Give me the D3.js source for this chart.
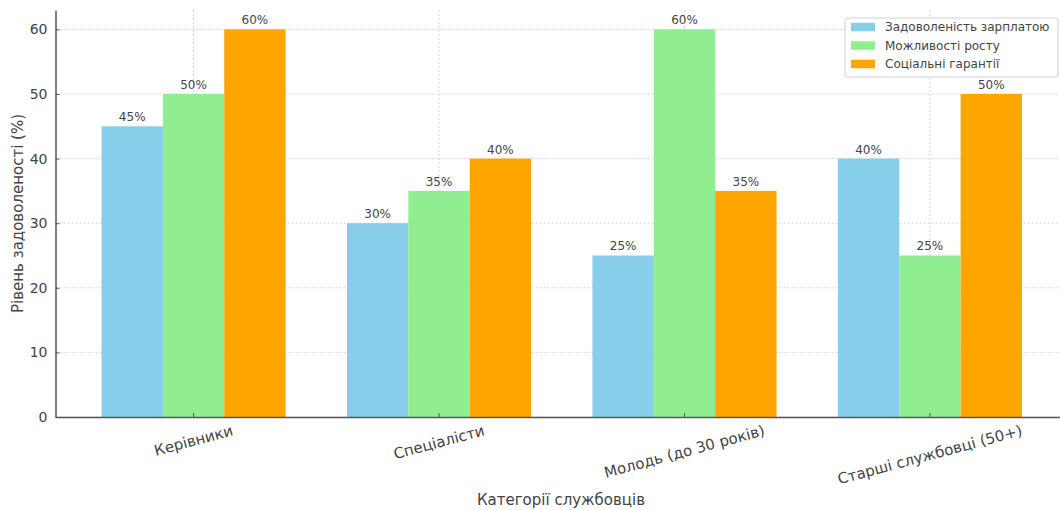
<!DOCTYPE html>
<html lang="uk">
<head>
<meta charset="utf-8">
<script src="https://cdn.jsdelivr.net/npm/d3@7"></script>
<style>
  html, body { margin: 0; padding: 0; background: #fff; }
  svg { display: block; font-family: "DejaVu Sans", sans-serif; }
</style>
</head>
<body>
<svg id="chart" width="1060" height="510"></svg>
<script>
// Employee categories and satisfaction scores (%)
const categories = ["Керівники", "Спеціалісти", "Молодь (до 30 років)", "Старші службовці (50+)"];
const seriesNames = ["Задоволеність зарплатою", "Можливості росту", "Соціальні гарантії"];
const salary = [45, 30, 25, 40];
const growth = [50, 35, 60, 25];
const social = [60, 40, 35, 50];
const yTicks = [0, 10, 20, 30, 40, 50, 60];
const colors = ["#87CEEB", "#90EE90", "#FFA500"];

const seriesValues = [salary, growth, social];
const rows = categories.map((c, i) => ({
  category: c,
  values: seriesNames.map((s, k) => ({ series: s, value: seriesValues[k][i], color: colors[k] }))
}));

const svg = d3.select("#chart");
const textColor = "#444";
const axisColor = "#555";

const plot = { left: 55.5, right: 1068, top: 10, bottom: 417 };

const x = d3.scaleBand()
  .domain(categories)
  .range([plot.left, plot.right])
  .paddingInner(0.25)
  .paddingOuter(0.1875);

const xSub = d3.scaleBand()
  .domain(seriesNames)
  .range([0, x.bandwidth()])
  .padding(0);

const y = d3.scaleLinear()
  .domain([0, 63])
  .range([plot.bottom, plot.top]);

// grid lines
const grid = svg.append("g").attr("class", "grid");
grid.selectAll("line.h")
  .data(yTicks)
  .join("line")
  .attr("class", "h")
  .attr("x1", plot.left).attr("x2", plot.right)
  .attr("y1", d => y(d)).attr("y2", d => y(d))
  .attr("stroke", "#d2d2d2")
  .attr("stroke-width", 1)
  .attr("stroke-dasharray", "2,2");
grid.selectAll("line.v")
  .data(categories)
  .join("line")
  .attr("class", "v")
  .attr("x1", d => x(d) + x.bandwidth() / 2).attr("x2", d => x(d) + x.bandwidth() / 2)
  .attr("y1", plot.top).attr("y2", plot.bottom)
  .attr("stroke", "#d2d2d2")
  .attr("stroke-width", 1)
  .attr("stroke-dasharray", "2,2");

// bars
const groups = svg.append("g").selectAll("g")
  .data(rows)
  .join("g")
  .attr("transform", d => `translate(${x(d.category)},0)`);

groups.selectAll("rect")
  .data(d => d.values)
  .join("rect")
  .attr("x", d => xSub(d.series))
  .attr("width", xSub.bandwidth())
  .attr("y", d => y(d.value))
  .attr("height", d => y(0) - y(d.value))
  .attr("fill", d => d.color);

// value labels
groups.selectAll("text")
  .data(d => d.values)
  .join("text")
  .attr("x", d => xSub(d.series) + xSub.bandwidth() / 2)
  .attr("y", d => y(d.value) - 5)
  .attr("text-anchor", "middle")
  .attr("font-size", 12)
  .attr("fill", textColor)
  .text(d => d.value + "%");

// y axis
const yAxis = svg.append("g")
  .attr("transform", `translate(${plot.left},0)`)
  .call(d3.axisLeft(y).tickValues(yTicks).tickSizeInner(-4).tickSizeOuter(0).tickPadding(8));
yAxis.select(".domain").attr("stroke", axisColor).attr("stroke-width", 1.5);
yAxis.selectAll(".tick line").attr("stroke", axisColor).attr("stroke-width", 1);
yAxis.selectAll(".tick text").attr("font-size", 14).attr("fill", textColor)
  .attr("font-family", "DejaVu Sans, sans-serif");

// x axis: labels rotated 15° about their centre, the rotated box hanging below the axis
const xAxis = svg.append("g")
  .attr("transform", `translate(0,${plot.bottom})`)
  .call(d3.axisBottom(x).tickSizeInner(-4).tickSizeOuter(0).tickPadding(0));
xAxis.select(".domain").attr("stroke", axisColor).attr("stroke-width", 1.5);
xAxis.selectAll(".tick line").attr("stroke", axisColor).attr("stroke-width", 1);
const angle = 15 * Math.PI / 180;
xAxis.selectAll(".tick text")
  .attr("font-size", 15)
  .attr("fill", textColor)
  .attr("font-family", "DejaVu Sans, sans-serif")
  .attr("text-anchor", "middle")
  .attr("dominant-baseline", "central")
  .attr("dy", null)
  .attr("y", 0)
  .each(function () {
    const w = this.getComputedTextLength();
    const h = 17;
    const cy = 5 + (w * Math.sin(angle) + h * Math.cos(angle)) / 2;
    d3.select(this).attr("transform", `translate(0,${cy}) rotate(-15)`);
  });

// axis titles
svg.append("text")
  .attr("x", 561).attr("y", 505)
  .attr("text-anchor", "middle")
  .attr("font-size", 15)
  .attr("fill", textColor)
  .text("Категорії службовців");

svg.append("text")
  .attr("transform", `translate(23,${(plot.top + plot.bottom) / 2}) rotate(-90)`)
  .attr("text-anchor", "middle")
  .attr("font-size", 15)
  .attr("fill", textColor)
  .text("Рівень задоволеності (%)");

// legend
const legend = svg.append("g").attr("transform", "translate(845,18)");
legend.append("rect")
  .attr("width", 213).attr("height", 59)
  .attr("rx", 3)
  .attr("fill", "#fff").attr("fill-opacity", 0.85)
  .attr("stroke", "#d0d0d0");
const items = legend.selectAll("g.item")
  .data(seriesNames)
  .join("g")
  .attr("class", "item")
  .attr("transform", (d, i) => `translate(6,${9 + i * 18.5})`);
items.append("rect")
  .attr("width", 24).attr("height", 8.5)
  .attr("y", -4.25)
  .attr("fill", (d, i) => colors[i]);
items.append("text")
  .attr("x", 34).attr("y", 0)
  .attr("dy", "0.35em")
  .attr("font-size", 12)
  .attr("fill", textColor)
  .text(d => d);
</script>
</body>
</html>
